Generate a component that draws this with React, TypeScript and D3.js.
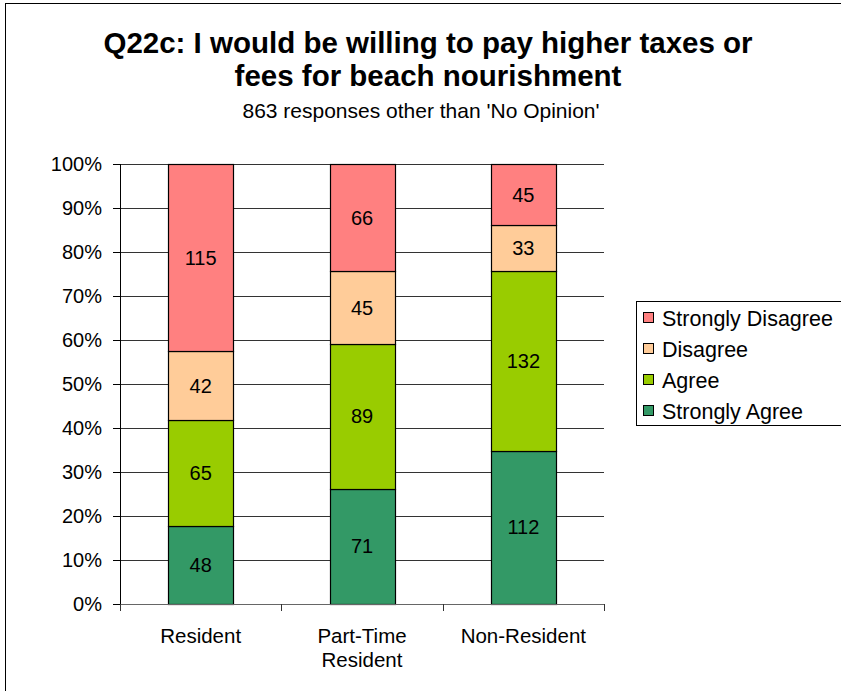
import React from "react";
import * as d3 from "d3";

const categories = [["Resident"], ["Part-Time", "Resident"], ["Non-Resident"]];
const series = ["Strongly Agree", "Agree", "Disagree", "Strongly Disagree"];
const colors = ["#339966", "#99CC00", "#FFCC99", "#FF8080"];
const stronglyAgree = [48, 71, 112];
const agree = [65, 89, 132];
const disagree = [42, 45, 33];
const stronglyDisagree = [115, 66, 45];
const yTicks = [0, 0.1, 0.2, 0.3, 0.4, 0.5, 0.6, 0.7, 0.8, 0.9, 1];
const legendOrder = [3, 2, 1, 0];

const W = 841;
const H = 691;
const left = 120;
const right = 604;
const top = 164;
const bottom = 604;

export default function App() {
  const values = [stronglyAgree, agree, disagree, stronglyDisagree];
  const rows = categories.map((c, i) => {
    const r: any = { key: c.join(" ") };
    series.forEach((s, j) => (r[s] = values[j][i]));
    return r;
  });
  const stack = d3.stack().keys(series).offset(d3.stackOffsetExpand);
  const layers = stack(rows as any);
  const x = d3
    .scaleBand()
    .domain(rows.map((r) => r.key))
    .range([left, right])
    .paddingInner(0.6)
    .paddingOuter(0.3);
  const band = d3.scaleBand().domain(rows.map((r) => r.key)).range([left, right]);
  const y = d3.scaleLinear().domain([0, 1]).range([bottom, top]);
  const font = "Arial, 'Liberation Sans', sans-serif";

  return (
    <svg
      width={W}
      height={H}
      style={{ position: "absolute", left: 0, top: 0, background: "#fff" }}
      fontFamily={font}
    >
      <rect x={5.5} y={3.5} width={900} height={900} fill="#fff" stroke="#000" strokeWidth={1} />
      <text x={428} y={53} textAnchor="middle" fontSize={29.5} fontWeight="bold">
        Q22c: I would be willing to pay higher taxes or
      </text>
      <text x={428} y={86} textAnchor="middle" fontSize={29.5} fontWeight="bold">
        fees for beach nourishment
      </text>
      <text x={421} y={118} textAnchor="middle" fontSize={21}>
        863 responses other than 'No Opinion'
      </text>

      {yTicks.map((t) => (
        <g key={t}>
          {t > 0 && (
            <line x1={left} x2={right} y1={Math.round(y(t)) + 0.5} y2={Math.round(y(t)) + 0.5} stroke="#333" strokeWidth={1} />
          )}
          <line x1={left - 7} x2={left} y1={Math.round(y(t)) + 0.5} y2={Math.round(y(t)) + 0.5} stroke="#000" />
          <text x={102} y={y(t)} dy="0.35em" textAnchor="end" fontSize={20}>
            {d3.format(".0%")(t)}
          </text>
        </g>
      ))}

      {layers.map((layer, li) => (
        <g key={layer.key}>
          {layer.map((d: any, i: number) => {
            const bx = x(rows[i].key)!;
            const y0 = y(d[0]);
            const y1 = y(d[1]);
            return (
              <g key={i}>
                <rect
                  x={Math.round(bx) + 0.5}
                  y={Math.round(y1) + 0.5}
                  width={Math.round(x.bandwidth())}
                  height={Math.round(y0) - Math.round(y1)}
                  fill={colors[li]}
                  stroke="#000"
                  strokeWidth={1.2}
                />
                <text
                  x={bx + x.bandwidth() / 2}
                  y={(y0 + y1) / 2}
                  dy="0.35em"
                  textAnchor="middle"
                  fontSize={20}
                >
                  {values[li][i]}
                </text>
              </g>
            );
          })}
        </g>
      ))}

      <line x1={left + 0.5} x2={left + 0.5} y1={top} y2={bottom} stroke="#000" />
      <line x1={left} x2={right} y1={bottom + 0.5} y2={bottom + 0.5} stroke="#666" />
      {[...rows.map((r) => band(r.key)!), right].map((tx, i) => (
        <line key={i} x1={Math.round(tx) + 0.5} x2={Math.round(tx) + 0.5} y1={bottom} y2={bottom + 7} stroke="#333" />
      ))}
      {rows.map((r, i) => (
        <text key={r.key} x={band(r.key)! + band.bandwidth() / 2} y={643} textAnchor="middle" fontSize={20.5}>
          {categories[i].map((line, k) => (
            <tspan key={k} x={band(r.key)! + band.bandwidth() / 2} dy={k === 0 ? 0 : 24}>
              {line}
            </tspan>
          ))}
        </text>
      ))}

      <rect x={636.5} y={301.5} width={300} height={124} fill="#fff" stroke="#000" />
      {legendOrder.map((si, k) => {
        const cy = 318 + k * 31;
        return (
          <g key={si}>
            <rect x={643.5} y={cy - 5.5} width={10} height={10} fill={colors[si]} stroke="#000" />
            <text x={662} y={cy} dy="0.35em" fontSize={21.5}>
              {series[si]}
            </text>
          </g>
        );
      })}
    </svg>
  );
}
